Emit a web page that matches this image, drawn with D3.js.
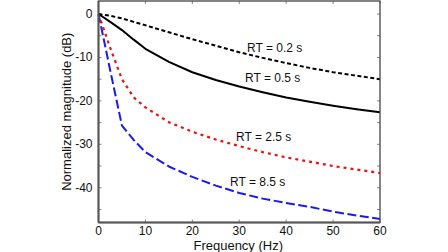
<!DOCTYPE html>
<html><head><meta charset="utf-8">
<script src="https://cdn.jsdelivr.net/npm/d3@7"></script>
<style>body{margin:0;background:#fff;}svg{display:block;font-family:"Liberation Sans",Arial,sans-serif;}</style>
</head><body><svg id="c" width="448" height="252"></svg>
<script>
const freqs = [0, 2.5, 5, 7.5, 10, 15, 20, 25, 30, 35, 40, 45, 50, 55, 60];
const rt02 = [0, -0.4, -1.0, -1.8, -2.6, -4.2, -5.8, -7.3, -8.8, -10.1, -11.3, -12.4, -13.4, -14.2, -15.0];
const rt05 = [0, -1.8, -3.7, -5.9, -8.0, -11.0, -13.4, -15.2, -16.7, -18.0, -19.2, -20.2, -21.1, -21.9, -22.6];
const rt25 = [0, -7.8, -15.0, -19.2, -21.5, -24.9, -27.1, -28.9, -30.4, -31.8, -33.0, -34.0, -35.0, -35.8, -36.6];
const rt85 = [0, -13.0, -25.7, -29.0, -31.8, -35.1, -37.5, -39.5, -41.2, -42.5, -43.5, -44.4, -45.5, -46.4, -47.2];
const seriesNames = ["RT = 0.2 s", "RT = 0.5 s", "RT = 2.5 s", "RT = 8.5 s"];
const xTicks = [0, 10, 20, 30, 40, 50, 60];
const yTicks = [0, -5, -10, -15, -20, -25, -30, -35, -40, -45];
const yLabels = [0, -10, -20, -30, -40];

const svg = d3.select("#c");
const L = 98.5, R = 380, T = 1, B = 222.5;
const x = d3.scaleLinear().domain([0, 60]).range([L, R]);
const y = d3.scaleLinear().domain([-48, 3]).range([B, T]);

const series = [
  {name: seriesNames[0], vals: rt02, color: "#000", dash: "4,2.5", w: 2, lx: 247, ly: 48},
  {name: seriesNames[1], vals: rt05, color: "#000", dash: null, w: 2, lx: 245, ly: 78},
  {name: seriesNames[2], vals: rt25, color: "#ee1111", dash: "3,4", w: 2.2, lx: 236, ly: 137},
  {name: seriesNames[3], vals: rt85, color: "#1a1aee", dash: "9,3.5", w: 2, lx: 230, ly: 182}
];

const axisColor = "#444";
const g = svg.append("g");
xTicks.forEach(t => {
  g.append("line").attr("x1", x(t)).attr("x2", x(t)).attr("y1", B).attr("y2", B - 3).attr("stroke", "#888").attr("stroke-width", 1);
  g.append("line").attr("x1", x(t)).attr("x2", x(t)).attr("y1", T).attr("y2", T + 3).attr("stroke", "#888").attr("stroke-width", 1);
  g.append("text").attr("x", x(t)).attr("y", B + 12.5).attr("text-anchor", "middle").attr("font-size", 12).attr("fill", "#111").text(t);
});
yTicks.forEach(t => {
  g.append("line").attr("x1", L).attr("x2", L + 3).attr("y1", y(t)).attr("y2", y(t)).attr("stroke", "#888").attr("stroke-width", 1);
  g.append("line").attr("x1", R).attr("x2", R - 3).attr("y1", y(t)).attr("y2", y(t)).attr("stroke", "#888").attr("stroke-width", 1);
});
yLabels.forEach(t => {
  g.append("text").attr("x", L - 6).attr("y", y(t) + 4).attr("text-anchor", "end").attr("font-size", 12).attr("fill", "#111").text(t);
});

const line = d3.line().x((d, i) => x(freqs[i])).y(d => y(d));
[3, 2, 1, 0].forEach(k => {
  const s = series[k];
  svg.append("path").datum(s.vals).attr("d", line).attr("fill", "none")
    .attr("stroke", s.color).attr("stroke-width", s.w)
    .attr("stroke-dasharray", s.dash).attr("stroke-linejoin", "round");
});
svg.append("rect").attr("x", L).attr("y", T).attr("width", R - L).attr("height", B - T)
  .attr("fill", "none").attr("stroke", axisColor).attr("stroke-width", 1.3);
svg.append("line").attr("x1", L).attr("x2", L).attr("y1", T).attr("y2", B).attr("stroke", "#555").attr("stroke-width", 2);
svg.append("line").attr("x1", L).attr("x2", R).attr("y1", B).attr("y2", B).attr("stroke", "#555").attr("stroke-width", 2);

series.forEach(s => {
  svg.append("text").attr("x", s.lx).attr("y", s.ly + 4).attr("font-size", 12).attr("fill", "#111").text(s.name);
});

svg.append("text").attr("x", (L + R) / 2 - 1).attr("y", 249.5).attr("text-anchor", "middle").attr("font-size", 13).attr("fill", "#111").text("Frequency (Hz)");
svg.append("text").attr("transform", `translate(71,${(T + B) / 2}) rotate(-90)`).attr("text-anchor", "middle").attr("font-size", 13).attr("fill", "#111").text("Normalized magnitude (dB)");
</script></body></html>
